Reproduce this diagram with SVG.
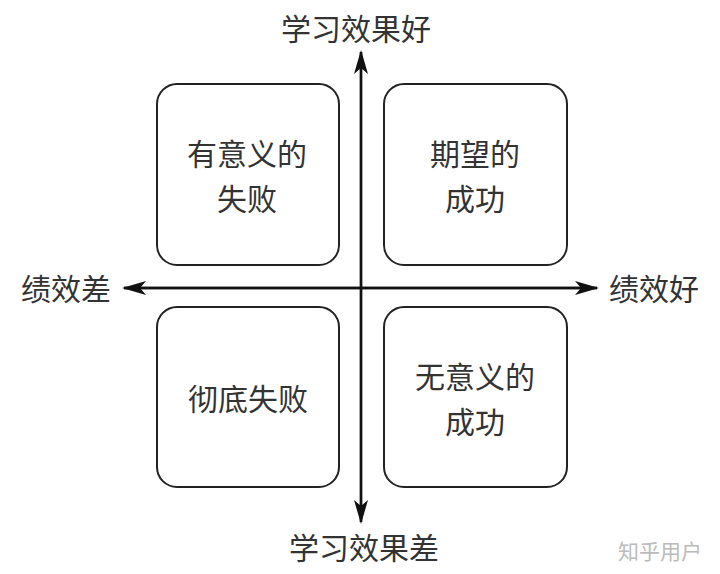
<svg xmlns="http://www.w3.org/2000/svg" width="720" height="574" viewBox="0 0 720 574">
<style>
.box{fill:#fff;stroke:#222;stroke-width:2}
.t{font-family:"Noto Sans CJK SC","Noto Sans CJK JP",sans-serif;font-size:30px;fill:#333;text-anchor:middle;dominant-baseline:central}
.ax{stroke:#111;stroke-width:2.4;fill:none}
.wm{font-family:"Noto Sans CJK SC",sans-serif;font-size:21px;fill:#bbb;text-anchor:middle;dominant-baseline:central}
</style>
<defs>
<marker id="ah" viewBox="0 0 24 14" refX="22" refY="7" markerWidth="24" markerHeight="14" markerUnits="userSpaceOnUse" orient="auto">
<path d="M0,0 L24,7 L0,14 L6,7 Z" fill="#111"/>
</marker>
</defs>
<rect width="720" height="574" fill="#fff"/>
<g id="connectors">
<line class="ax" x1="361" y1="522" x2="361" y2="52" marker-end="url(#ah)"/>
<line class="ax" x1="361" y1="52" x2="361" y2="522" marker-end="url(#ah)"/>
<line class="ax" x1="124" y1="288" x2="597" y2="288" marker-end="url(#ah)"/>
<line class="ax" x1="597" y1="288" x2="124" y2="288" marker-end="url(#ah)"/>
</g>
<g id="q1"><rect class="box" x="157" y="84" width="182" height="181" rx="20"/>
<text class="t" x="247" y="152">有意义的</text><text class="t" x="247" y="197">失败</text></g>
<g id="q2"><rect class="box" x="384" y="84" width="183" height="181" rx="20"/>
<text class="t" x="475" y="152">期望的</text><text class="t" x="475" y="197">成功</text></g>
<g id="q3"><rect class="box" x="157" y="307" width="182" height="180" rx="20"/>
<text class="t" x="248" y="397">彻底失败</text></g>
<g id="q4"><rect class="box" x="384" y="307" width="183" height="180" rx="20"/>
<text class="t" x="475" y="375">无意义的</text><text class="t" x="475" y="420">成功</text></g>
<g id="labels">
<text class="t" x="356" y="27">学习效果好</text>
<text class="t" x="364" y="546">学习效果差</text>
<text class="t" x="66" y="287">绩效差</text>
<text class="t" x="654" y="287">绩效好</text>
<text class="wm" x="660" y="550">知乎用户</text>
</g>
</svg>
